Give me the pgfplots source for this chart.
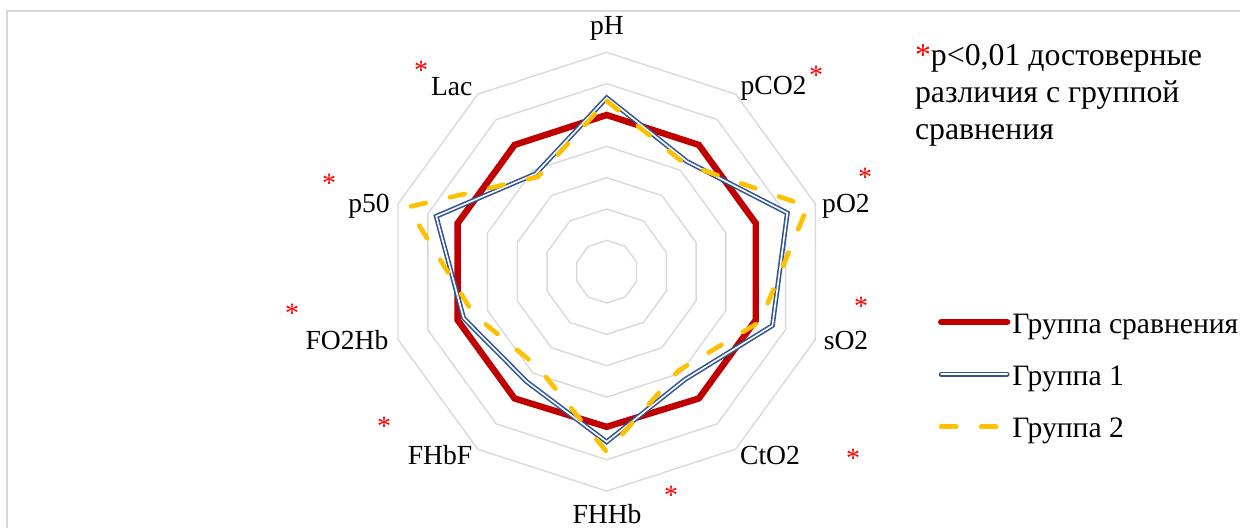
\documentclass[border=0pt]{standalone}
\usepackage{pgfplots}
\pgfplotsset{compat=1.18}
\usepgfplotslibrary{polar}
\usepackage{fontspec}
\setmainfont{Liberation Serif}
\definecolor{cred}{RGB}{192,0,0}
\definecolor{cblue}{RGB}{47,85,151}
\definecolor{cyel}{RGB}{255,192,0}
\definecolor{cgrid}{RGB}{217,217,217}
\definecolor{cast}{RGB}{255,0,0}
\begin{document}
\begin{tikzpicture}
\path[use as bounding box] (0pt,0pt) rectangle (620pt,-264pt);
\draw[cgrid, line width=0.75pt] (3.5pt,-270pt) -- (3.5pt,-5.5pt) -- (630pt,-5.5pt);
\begin{polaraxis}[
  at={(303.35pt,-135.85pt)}, anchor=center,
  scale only axis, width=219.4pt, height=219.4pt,
  ymin=0, ymax=7, hide axis, clip=false,
  legend style={draw=none, fill=none, inner sep=0pt, outer sep=0pt,
    at={(1.255,0.404)}, anchor=north west,
    font=\fontsize{14.8}{17}\selectfont, row sep=14.9pt,
    nodes={inner sep=0pt, outer sep=0pt},
    /tikz/every odd column/.append style={column sep=1pt}},
  legend cell align=left,
  legend image code/.code={\draw[#1, line cap=round] (0pt,1.5pt) -- (33pt,1.5pt);},
  gridring/.style={cgrid, line width=0.7pt, forget plot},
]
\addplot[gridring] coordinates {(90,1)(54,1)(18,1)(342,1)(306,1)(270,1)(234,1)(198,1)(162,1)(126,1)} -- cycle;
\addplot[gridring] coordinates {(90,2)(54,2)(18,2)(342,2)(306,2)(270,2)(234,2)(198,2)(162,2)(126,2)} -- cycle;
\addplot[gridring] coordinates {(90,3)(54,3)(18,3)(342,3)(306,3)(270,3)(234,3)(198,3)(162,3)(126,3)} -- cycle;
\addplot[gridring] coordinates {(90,4)(54,4)(18,4)(342,4)(306,4)(270,4)(234,4)(198,4)(162,4)(126,4)} -- cycle;
\addplot[gridring] coordinates {(90,5)(54,5)(18,5)(342,5)(306,5)(270,5)(234,5)(198,5)(162,5)(126,5)} -- cycle;
\addplot[gridring] coordinates {(90,6)(54,6)(18,6)(342,6)(306,6)(270,6)(234,6)(198,6)(162,6)(126,6)} -- cycle;
\addplot[gridring] coordinates {(90,7)(54,7)(18,7)(342,7)(306,7)(270,7)(234,7)(198,7)(162,7)(126,7)} -- cycle;
% order: pH, pCO2, pO2, sO2, CtO2, FHHb, FHbF, FO2Hb, p50, Lac
\addplot[cred, line width=3.2pt, line join=miter, no marks] coordinates {
 (90,5.0) (54,5.0) (18,5.0) (342,5.0) (306,5.0) (270,4.95) (234,5.0) (198,5.0) (162,5.0) (126,5.0)} -- cycle;
\addlegendentry{Группа сравнения}
\addplot[cblue, line width=0.8pt, double=white, double distance=0.8pt, line join=miter, no marks] coordinates {
 (90,5.55) (54,4.35) (18,6.06) (342,5.56) (306,4.25) (270,5.43) (234,4.34) (198,4.80) (162,5.72) (126,3.86)} -- cycle;
\addlegendentry{Группа 1}
\addplot[cyel, line width=2.3pt, line cap=round, dash pattern=on 7.5pt off 12.5pt, no marks] coordinates {
 (90,5.45) (54,4.25) (18,6.74) (342,5.15) (306,3.90) (270,5.75) (234,3.75) (198,4.45) (162,6.67) (126,3.74)} -- cycle;
\addlegendentry{Группа 2}
\end{polaraxis}
\begin{scope}[x=0.5pt, y=-0.5pt, every node/.style={inner sep=0pt, outer sep=0pt}]
\begin{scope}[every node/.append style={font=\fontsize{13.8}{16}\selectfont, anchor=base}]
\node at (607,35) {pH};
\node at (773.5,95) {pCO2};
\node at (846,213) {pO2};
\node at (846,350) {sO2};
\node at (770,465) {CtO2};
\node at (607,523) {FHHb};
\node at (440,465) {FHbF};
\node at (347,350) {FO2Hb};
\node at (369,213) {p50};
\node at (451.7,96) {Lac};
\end{scope}
\begin{scope}[every node/.append style={font=\fontsize{14}{16}\selectfont, anchor=base, text=cast}]
\node at (421,79.5) {*};
\node at (816,84.5) {*};
\node at (865,186.5) {*};
\node at (861,315.5) {*};
\node at (853,467.5) {*};
\node at (671,504.5) {*};
\node at (384,435.5) {*};
\node at (292,322.5) {*};
\node at (329,192.5) {*};
\end{scope}
\node[anchor=north west, align=left, font=\fontsize{15.9}{18.5}\selectfont] at (915,44)
  {\textcolor{cast}{*}p<0,01 достоверные\\различия с группой\\сравнения};
\end{scope}
\end{tikzpicture}
\end{document}
